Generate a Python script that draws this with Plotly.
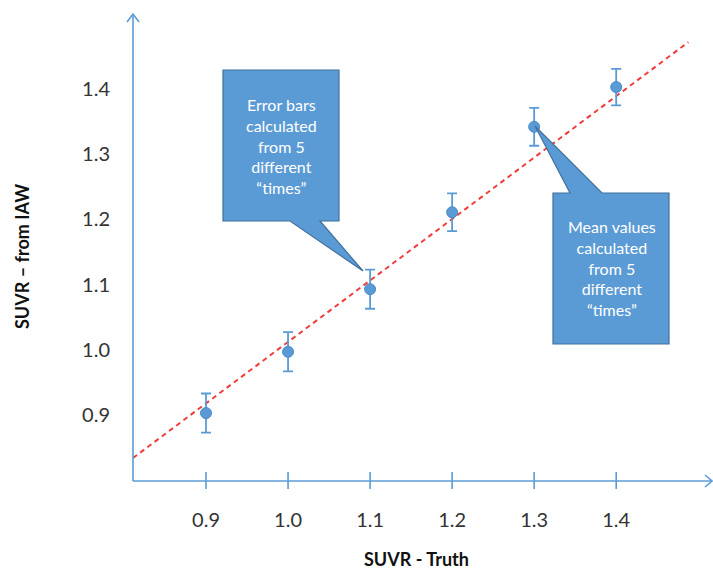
import plotly.graph_objects as go

# Mean SUVR values vs. ground truth, with spread over 5 acquisition times
suvr_truth = [0.9, 1.0, 1.1, 1.2, 1.3, 1.4]
suvr_iaw = [0.903, 0.997, 1.093, 1.211, 1.342, 1.403]
suvr_err = [0.030, 0.030, 0.030, 0.029, 0.029, 0.028]

# Trend line end points
fit_x = [0.811, 1.488]
fit_y = [0.834, 1.472]

x_ticks = [0.9, 1.0, 1.1, 1.2, 1.3, 1.4]
x_tick_text = ["0.9", "1.0", "1.1", "1.2", "1.3", "1.4"]
y_ticks = [0.9, 1.0, 1.1, 1.2, 1.3, 1.4]
y_tick_text = ["0.9", "1.0", "1.1", "1.2", "1.3", "1.4"]

callout_left = ["Error bars", "calculated", "from 5", "different", "\u201ctimes\u201d"]
callout_right = ["Mean values", "calculated", "from 5", "different", "\u201ctimes\u201d"]

W, H = 713, 571
ML, MR, MT, MB = 133, 0, 13, 90
PW, PH = W - ML - MR, H - MT - MB

BLUE = "#5b9bd5"
BOX_EDGE = "#41719c"
FONT = "Lato, 'Open Sans', sans-serif"


def px(x, y):
    """Pixel position on the page -> paper coordinates."""
    return (x - ML) / PW, (H - MB - y) / PH


def path(points, close=True):
    parts = []
    for i, (x, y) in enumerate(points):
        u, v = px(x, y)
        parts.append(("M" if i == 0 else "L") + f"{u:.5f},{v:.5f}")
    return " ".join(parts) + (" Z" if close else "")


fig = go.Figure()

fig.add_trace(go.Scatter(
    x=fit_x, y=fit_y, mode="lines",
    line=dict(color="#f03c3c", width=2, dash="5px,4px"),
    hoverinfo="skip", showlegend=False,
))

fig.add_trace(go.Scatter(
    x=suvr_truth, y=suvr_iaw, mode="markers",
    marker=dict(color=BLUE, size=11, line=dict(color="#4a89c8", width=1)),
    error_y=dict(type="data", array=suvr_err, visible=True,
                 color=BLUE, thickness=1.8, width=5),
    showlegend=False,
))

shapes = []
# axis lines with open arrowheads
shapes.append(dict(type="path", xref="paper", yref="paper",
                   path=path([(133, 481), (133, 14)], close=False),
                   line=dict(color=BLUE, width=1.6)))
shapes.append(dict(type="path", xref="paper", yref="paper",
                   path=path([(127, 22), (133, 14), (139, 22)], close=False),
                   line=dict(color=BLUE, width=1.6)))
shapes.append(dict(type="path", xref="paper", yref="paper",
                   path=path([(133, 481), (712, 481)], close=False),
                   line=dict(color=BLUE, width=1.6)))
shapes.append(dict(type="path", xref="paper", yref="paper",
                   path=path([(705, 475), (712, 481), (705, 487)], close=False),
                   line=dict(color=BLUE, width=1.6)))

# x tick marks crossing the axis
for t in x_ticks:
    shapes.append(dict(type="line", xref="x", yref="paper",
                       x0=t, x1=t, y0=px(0, 489)[1], y1=px(0, 472)[1],
                       line=dict(color=BLUE, width=1.6)))

# callout boxes
shapes.append(dict(type="path", xref="paper", yref="paper", layer="above",
                   path=path([(223, 70), (339, 70), (339, 221), (320, 221),
                              (363, 271), (290, 221), (223, 221)]),
                   fillcolor=BLUE, line=dict(color=BOX_EDGE, width=1.2)))
shapes.append(dict(type="path", xref="paper", yref="paper", layer="above",
                   path=path([(553, 193), (570, 193), (535, 126), (602, 193),
                              (669, 193), (669, 344), (553, 344)]),
                   fillcolor=BLUE, line=dict(color=BOX_EDGE, width=1.2)))

annotations = []
cx, cy = px(281, 146)
annotations.append(dict(xref="paper", yref="paper", x=cx, y=cy,
                        text="<br>".join(callout_left), showarrow=False,
                        font=dict(family=FONT, size=16, color="white"),
                        align="center", xanchor="center", yanchor="middle"))
cx, cy = px(612, 268)
annotations.append(dict(xref="paper", yref="paper", x=cx, y=cy,
                        text="<br>".join(callout_right), showarrow=False,
                        font=dict(family=FONT, size=16, color="white"),
                        align="center", xanchor="center", yanchor="middle"))

tx, ty = px(416, 559)
annotations.append(dict(xref="paper", yref="paper", x=tx, y=ty,
                        text="<b>SUVR - Truth</b>", showarrow=False,
                        font=dict(family=FONT, size=18, color="#111111"),
                        xanchor="center", yanchor="middle"))
tx, ty = px(22, 257)
annotations.append(dict(xref="paper", yref="paper", x=tx, y=ty,
                        text="<b>SUVR \u2013 from IAW</b>", showarrow=False,
                        textangle=-90,
                        font=dict(family=FONT, size=18, color="#111111"),
                        xanchor="center", yanchor="middle"))

fig.update_layout(
    width=W, height=H,
    margin=dict(l=ML, r=MR, t=MT, b=MB),
    plot_bgcolor="white", paper_bgcolor="white",
    shapes=shapes, annotations=annotations,
    xaxis=dict(range=[0.811, 1.518], showgrid=False, zeroline=False,
               showline=False, ticks="", tickvals=x_ticks, ticktext=x_tick_text,
               ticklabelstandoff=25,
               tickfont=dict(family=FONT, size=20, color="#333333")),
    yaxis=dict(range=[0.7988, 1.5166], showgrid=False, zeroline=False,
               showline=False, ticks="", tickvals=y_ticks, ticktext=y_tick_text,
               ticklabelstandoff=22,
               tickfont=dict(family=FONT, size=20, color="#333333")),
)

fig.write_html("out.html")
